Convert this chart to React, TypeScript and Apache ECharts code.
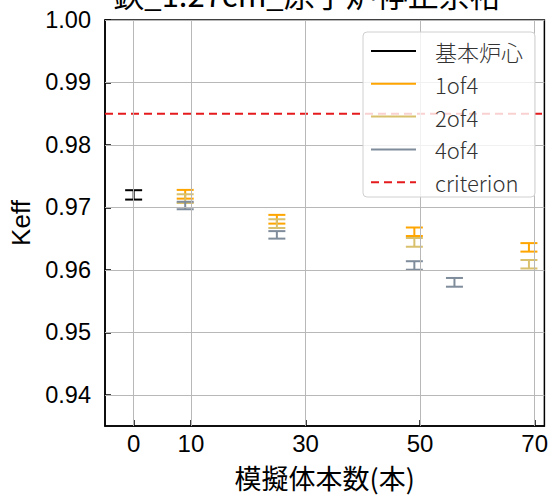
import React, { useEffect, useRef } from "react";
import * as echarts from "echarts";

const titleText = "鉄_1.27cm_原子炉停止余裕";
const xName = "模擬体本数(本)";
const yName = "Keff";

const xTicks = [0, 10, 30, 50, 70];
const yTicks = [0.94, 0.95, 0.96, 0.97, 0.98, 0.99, 1.0];

const seriesNames = ["基本炉心", "1of4", "2of4", "4of4"];
const seriesColors = ["#000000", "#ffa500", "#d8c06c", "#7f8c9b"];

const baseX = [0];
const baseY = [0.972];
const baseErr = [0.00075];

const of1X = [9, 25, 49, 69];
const of1Y = [0.9721, 0.9681, 0.9661, 0.9636];
const of1Err = [0.0007, 0.0007, 0.00068, 0.00068];

const of2X = [9, 25, 49, 69];
const of2Y = [0.9714, 0.9674, 0.9644, 0.9609];
const of2Err = [0.0007, 0.0007, 0.0007, 0.00068];

const of4X = [9, 25, 49, 56];
const of4Y = [0.9703, 0.9656, 0.9607, 0.958];
const of4Err = [0.0006, 0.0006, 0.00068, 0.0007];

const criterionName = "criterion";
const criterionValue = 0.985;
const criterionColor = "#e41a1c";

const xMin = -5;
const xMax = 71.7;
const yMin = 0.935;
const yMax = 1.0;

const groups = [
  { x: baseX, y: baseY, e: baseErr },
  { x: of1X, y: of1Y, e: of1Err },
  { x: of2X, y: of2Y, e: of2Err },
  { x: of4X, y: of4Y, e: of4Err },
];

const latin = "'Liberation Sans', 'Noto Sans CJK JP', sans-serif";
const cjk = "'Noto Sans CJK JP', 'Liberation Sans', sans-serif";

export default function App() {
  const ref = useRef<HTMLDivElement>(null);
  useEffect(() => {
    if (!ref.current) return;
    const chart = echarts.init(ref.current, null, { renderer: "svg" });

    const errSeries = groups.map((g, i) => ({
      name: seriesNames[i],
      type: "custom",
      z: 3,
      data: g.x.map((xv, k) => [xv, g.y[k] - g.e[k], g.y[k] + g.e[k]]),
      encode: { x: 0, y: [1, 2] },
      renderItem: (params: any, api: any) => {
        const xv = api.value(0);
        const lo = api.coord([xv, api.value(1)]);
        const hi = api.coord([xv, api.value(2)]);
        const hw = 8.5;
        const st = { stroke: seriesColors[i], lineWidth: 2 };
        return {
          type: "group",
          children: [
            { type: "line", shape: { x1: lo[0], y1: lo[1], x2: hi[0], y2: hi[1] }, style: st },
            { type: "line", shape: { x1: lo[0] - hw, y1: lo[1], x2: lo[0] + hw, y2: lo[1] }, style: st },
            { type: "line", shape: { x1: hi[0] - hw, y1: hi[1], x2: hi[0] + hw, y2: hi[1] }, style: st },
          ],
        };
      },
    }));

    const legendItems = [
      ...seriesNames.map((n, i) => ({ name: n, color: seriesColors[i], dashed: false })),
      { name: criterionName, color: criterionColor, dashed: true },
    ];
    const lgLeft = 363;
    const lgTop = 32;
    const rowY0 = 51;
    const rowGap = 32.8;
    const legendGraphics: any[] = [
      {
        type: "rect",
        z: 100,
        shape: { x: lgLeft, y: lgTop, width: 172, height: 165, r: 4 },
        style: { fill: "rgba(255,255,255,0.8)", stroke: "#d0d0d0", lineWidth: 1 },
      },
    ];
    legendItems.forEach((it, i) => {
      const yy = rowY0 + rowGap * i;
      legendGraphics.push({
        type: "line",
        z: 101,
        shape: { x1: 371, y1: yy, x2: 416, y2: yy },
        style: { stroke: it.color, lineWidth: 2, lineDash: it.dashed ? [8, 5] : null },
      });
      legendGraphics.push({
        type: "text",
        z: 101,
        x: 435,
        y: yy,
        style: {
          text: it.name,
          fontSize: 22,
          fontFamily: cjk,
          fontWeight: 300,
          fill: "#333",
          verticalAlign: "middle",
          align: "left",
        },
      });
    });

    chart.setOption({
      animation: false,
      title: {
        text: titleText,
        left: 307,
        top: -22,
        padding: 0,
        textAlign: "center",
        textStyle: { fontSize: 31, fontWeight: "normal", color: "#000", fontFamily: cjk },
      },
      grid: {
        left: 105,
        top: 20,
        right: 6,
        bottom: 67,
        show: true,
        borderColor: "#000",
        borderWidth: 1.5,
        backgroundColor: "transparent",
      },
      xAxis: {
        type: "value",
        min: xMin,
        max: xMax,
        name: xName,
        nameLocation: "middle",
        nameGap: 38,
        nameTextStyle: { fontSize: 27, color: "#000", fontFamily: cjk },
        axisLine: { show: true, onZero: false, lineStyle: { color: "#000", width: 1.5 } },
        axisTick: { show: true, inside: true, length: 6, customValues: xTicks, lineStyle: { color: "#000", width: 1.5 } },
        axisLabel: { customValues: xTicks, fontSize: 24, color: "#000", fontFamily: latin, margin: 5 },
        splitLine: { show: false },
      },
      yAxis: {
        type: "value",
        min: yMin,
        max: yMax,
        name: yName,
        nameLocation: "middle",
        nameGap: 70,
        nameTextStyle: { fontSize: 26, color: "#000", fontFamily: latin },
        axisLine: { show: true, onZero: false, lineStyle: { color: "#000", width: 1.5 } },
        axisTick: { show: true, inside: true, length: 6, customValues: yTicks, lineStyle: { color: "#000", width: 1.5 } },
        axisLabel: {
          customValues: yTicks,
          fontSize: 23.5,
          color: "#000",
          fontFamily: latin,
          margin: 14,
          formatter: (v: number) => v.toFixed(2),
        },
        splitLine: { show: false },
      },
      graphic: legendGraphics,
      series: [
        {
          name: "grid",
          type: "line",
          z: 1,
          data: [],
          silent: true,
          markLine: {
            silent: true,
            symbol: ["none", "none"],
            label: { show: false },
            lineStyle: { color: "#b8b8b8", width: 1, type: "solid" },
            data: [
              ...xTicks.map((v) => ({ xAxis: v })),
              ...yTicks.map((v) => ({ yAxis: v })),
            ],
          },
        },
        {
          name: criterionName,
          type: "line",
          z: 2,
          symbol: "none",
          data: [
            [xMin, criterionValue],
            [xMax, criterionValue],
          ],
          lineStyle: { color: criterionColor, width: 2, type: [8, 5] },
        },
        ...errSeries,
      ],
    });
    return () => chart.dispose();
  }, []);
  return <div ref={ref} style={{ position: "absolute", left: 0, top: 0, width: 551, height: 496 }} />;
}
